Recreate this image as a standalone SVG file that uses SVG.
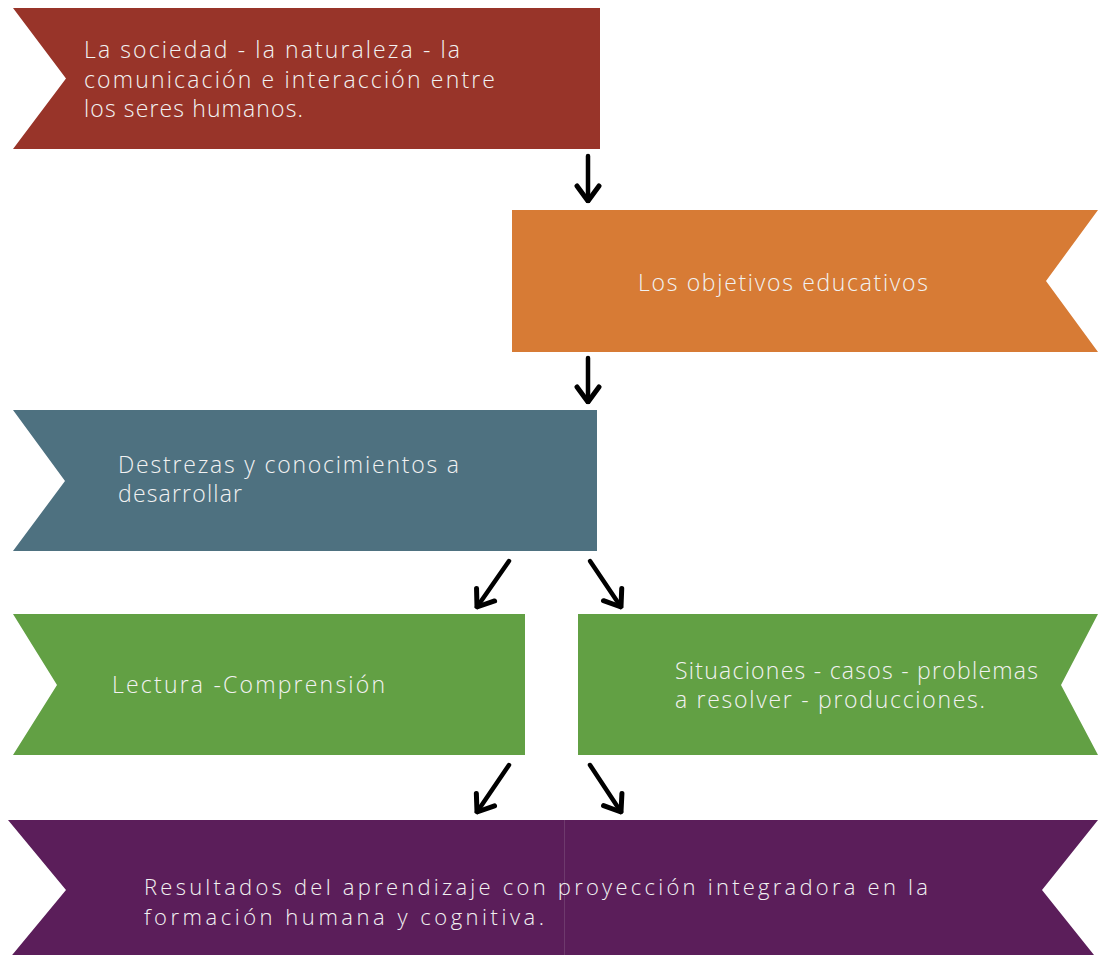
<svg xmlns="http://www.w3.org/2000/svg" width="1098" height="955" viewBox="0 0 1098 955">
<style>
.lbl{font-family:"Open Sans","DejaVu Sans",sans-serif;font-weight:300;font-size:23px;fill:#F2F2F2}
.sm{font-size:22px}
.con{stroke:#000;stroke-width:4.5;fill:none;stroke-linecap:round;stroke-linejoin:round;marker-end:url(#head)}
</style>
<defs>
<marker id="head" markerUnits="userSpaceOnUse" viewBox="-18 -14 20 28" markerWidth="20" markerHeight="28" refX="0" refY="0" orient="auto">
<path d="M-15,-11 L0,0 L-15,11" fill="none" stroke="#000" stroke-width="5" stroke-linecap="round" stroke-linejoin="round"/>
</marker>
</defs>
<rect width="1098" height="955" fill="#fff"/>
<g id="n1">
<polygon points="13,8 600,8 600,149 13,149 66,78.5" fill="#983429"/>
<text class="lbl" x="84" y="58" textLength="376">La sociedad - la naturaleza - la</text>
<text class="lbl" x="84" y="88" textLength="411">comunicación e interacción entre</text>
<text class="lbl" x="84" y="117" textLength="219">los seres humanos.</text>
</g>
<g id="n2">
<polygon points="512,210 1098,210 1046,281 1098,352 512,352" fill="#D77B35"/>
<text class="lbl" x="638" y="291" textLength="290">Los objetivos educativos</text>
</g>
<g id="n3">
<polygon points="13,410 597,410 597,551 13,551 65,481" fill="#4E7180"/>
<text class="lbl" x="118" y="473" textLength="341">Destrezas y conocimientos a</text>
<text class="lbl" x="118" y="502" textLength="124">desarrollar</text>
</g>
<g id="n4">
<polygon points="13,614 525,614 525,755 13,755 57,685" fill="#62A044"/>
<text class="lbl" x="112" y="693" textLength="273">Lectura -Comprensión</text>
</g>
<g id="n5">
<polygon points="578,614 1098,614 1061,685 1098,755 578,755" fill="#62A044"/>
<text class="lbl" x="675" y="679" textLength="363">Situaciones - casos - problemas</text>
<text class="lbl" x="675" y="708" textLength="310">a resolver - producciones.</text>
</g>
<g id="n6">
<polygon points="8,820 1098,820 1042,890 1098,960 8,960 66,890" fill="#5B1E5A"/>
<line x1="564.5" y1="820" x2="564.5" y2="955" stroke="#6E3A6D" stroke-width="1"/>
<text class="lbl sm" x="144" y="895" textLength="784">Resultados del aprendizaje con proyección integradora en la</text>
<text class="lbl sm" x="144" y="925" textLength="400">formación humana y cognitiva.</text>
</g>
<g id="connectors">
<line class="con" x1="588" y1="156" x2="588" y2="201"/>
<line class="con" x1="588" y1="358" x2="588" y2="402"/>
<line class="con" x1="509" y1="561" x2="477" y2="607"/>
<line class="con" x1="590" y1="561" x2="621" y2="607"/>
<line class="con" x1="509" y1="765" x2="477" y2="812"/>
<line class="con" x1="590" y1="765" x2="621" y2="812"/>
</g>
</svg>
